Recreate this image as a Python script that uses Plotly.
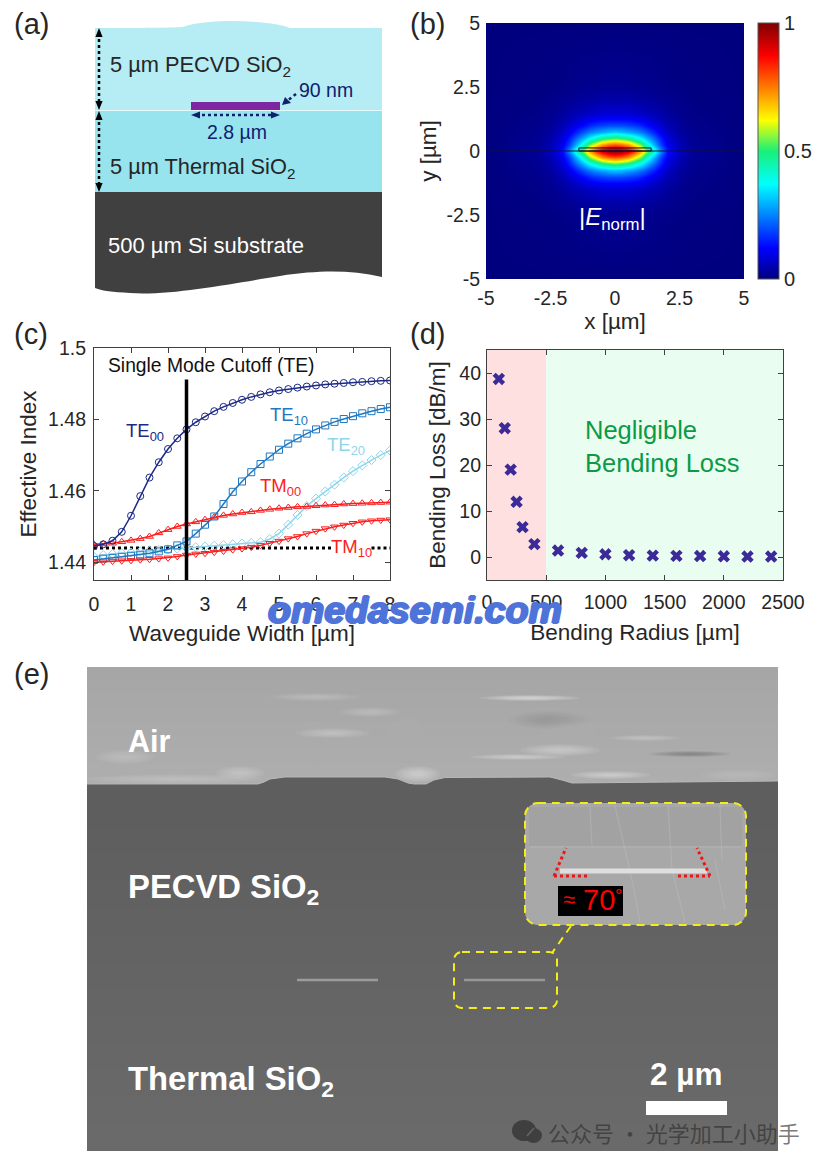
import plotly.graph_objects as go

W, H = 825, 1165

# ---------- panel (b) field (quarter, mirrored on plot)
field_x = [0, .25, .5, .75, 1, 1.25, 1.5, 1.75, 2, 2.5, 3, 5]
field_y = [0, .25, .5, .75, 1, 1.25, 1.5, 2, 2.5, 5]
field_z = [
    [1.0, .98, .92, .83, .70, .55, .42, .27, .14, .06, .025, 0],
    [.80, .78, .73, .65, .55, .42, .30, .20, .11, .05, .02, 0],
    [.52, .50, .47, .42, .36, .29, .22, .15, .09, .04, .018, 0],
    [.32, .31, .29, .27, .24, .20, .15, .11, .07, .03, .015, 0],
    [.19, .19, .18, .17, .15, .12, .10, .08, .05, .025, .012, 0],
    [.12, .12, .12, .11, .10, .085, .07, .05, .04, .02, .01, 0],
    [.08, .08, .08, .07, .065, .055, .05, .04, .03, .015, .008, 0],
    [.04, .04, .04, .035, .03, .03, .025, .02, .015, .01, .005, 0],
    [.018, .018, .018, .015, .015, .015, .012, .01, .008, .005, .003, 0],
    [0, 0, 0, 0, 0, 0, 0, 0, 0, 0, 0, 0],
]
field_ticks = [-5, -2.5, 0, 2.5, 5]
field_ticktext = ["-5", "-2.5", "0", "2.5", "5"]
cbar_ticks = [0, 0.5, 1]
jet = [[0, "#00007f"], [.12, "#0000ff"], [.37, "#00ffff"], [.5, "#19f078"], [.62, "#ffff00"],
       [.87, "#ff0000"], [1, "#7f0000"]]

# ---------- panel (c)
width_um = [i * 0.25 for i in range(33)]
te00 = [1.4445, 1.445, 1.446, 1.4485, 1.453, 1.4585, 1.4637, 1.468, 1.4717, 1.4747, 1.4772, 1.4792, 1.4808,
        1.4823, 1.4835, 1.4846, 1.4855, 1.4863, 1.487, 1.4876, 1.4881, 1.4885, 1.4889, 1.4892, 1.4895,
        1.4898, 1.49, 1.4902, 1.4904, 1.4905, 1.4907, 1.4908, 1.4909]
te10 = [1.4406, 1.441, 1.4412, 1.4415, 1.4418, 1.4421, 1.4425, 1.443, 1.4436, 1.4447, 1.4458, 1.448, 1.4505,
        1.4528, 1.4563, 1.4597, 1.4626, 1.4652, 1.4675, 1.4696, 1.4715, 1.4732, 1.4747, 1.476, 1.4772,
        1.4783, 1.4793, 1.4801, 1.4809, 1.4817, 1.4823, 1.4829, 1.4834]
te20 = [1.4415, 1.442, 1.4423, 1.4425, 1.4427, 1.443, 1.4432, 1.4434, 1.4436, 1.4438, 1.444, 1.4442, 1.4444,
        1.4446, 1.4448, 1.445, 1.4452, 1.4454, 1.4456, 1.4465, 1.448, 1.4505, 1.4532, 1.4557, 1.4578,
        1.4598, 1.4617, 1.4637, 1.4655, 1.4671, 1.4686, 1.47, 1.4713]
tm00 = [1.445, 1.4451, 1.4453, 1.4457, 1.4461, 1.4466, 1.4472, 1.4482, 1.4491, 1.45, 1.4507, 1.4513, 1.4519,
        1.4526, 1.4531, 1.4535, 1.4539, 1.4541, 1.4545, 1.4548, 1.4551, 1.4553, 1.4555, 1.4556, 1.4558,
        1.456, 1.4561, 1.4563, 1.4564, 1.4565, 1.4566, 1.4567, 1.4568]
tm10 = [1.44, 1.4401, 1.4403, 1.4404, 1.4405, 1.4407, 1.4408, 1.441, 1.4412, 1.4416, 1.442, 1.4423, 1.4425,
        1.4428, 1.4431, 1.4435, 1.4438, 1.4442, 1.4447, 1.4453, 1.4459, 1.4466, 1.4472, 1.448, 1.4487,
        1.4494, 1.4499, 1.4504, 1.4509, 1.4513, 1.4516, 1.4518, 1.4519]
cutoff_x = [2.5, 2.5]
cutoff_y = [1.435, 1.4912]
sm_x = [0, 6.45, None, 7.5, 8]
sm_y = [1.444, 1.444, None, 1.444, 1.444]
c_xticks = [0, 1, 2, 3, 4, 5, 6, 7, 8]
c_yticks = [1.44, 1.46, 1.48, 1.5]
c_yticktext = ["1.44", "1.46", "1.48", "1.5"]

# ---------- panel (d)
radius = [100, 150, 200, 250, 300, 400, 600, 800, 1000, 1200, 1400, 1600, 1800, 2000, 2200, 2400]
loss = [38.7, 28, 19, 12, 6.5, 2.8, 1.4, 0.9, 0.6, 0.4, 0.3, 0.25, 0.2, 0.15, 0.1, 0.1]
d_xticks = [0, 500, 1000, 1500, 2000, 2500]
d_yticks = [0, 10, 20, 30, 40]

FONT = "Liberation Sans"
TXT = "#262626"
AX = "#404040"
NAVY = "#10206e"


def X(p):
    return p / W


def Y(p):
    return 1 - p / H


def pp(points, close=True):
    s = "M " + " L ".join(f"{X(a):.5f},{Y(b):.5f}" for a, b in points)
    return s + (" Z" if close else "")


def curve(start, segs):
    s = f"M {X(start[0]):.5f},{Y(start[1]):.5f}"
    for c1, c2, e in segs:
        s += f" C {X(c1[0]):.5f},{Y(c1[1]):.5f} {X(c2[0]):.5f},{Y(c2[1]):.5f} {X(e[0]):.5f},{Y(e[1]):.5f}"
    return s


shapes = []
annots = []


def rect(x0, y0, x1, y1, fill, line=None, lw=0, opacity=1, layer="below"):
    shapes.append(dict(type="rect", xref="paper", yref="paper", x0=X(x0), x1=X(x1), y0=Y(y0), y1=Y(y1),
                       fillcolor=fill, opacity=opacity, layer=layer,
                       line=dict(color=line or fill, width=lw)))


def path(d, fill=None, line=None, lw=0, opacity=1, dash=None, layer="below"):
    ln = dict(color=line or "rgba(0,0,0,0)", width=lw)
    if dash:
        ln["dash"] = dash
    sh = dict(type="path", xref="paper", yref="paper", path=d, opacity=opacity, layer=layer, line=ln)
    if fill:
        sh["fillcolor"] = fill
    shapes.append(sh)


def seg(x0, y0, x1, y1, color, lw, dash=None, opacity=1, layer="above"):
    ln = dict(color=color, width=lw)
    if dash:
        ln["dash"] = dash
    shapes.append(dict(type="line", xref="paper", yref="paper", x0=X(x0), x1=X(x1), y0=Y(y0), y1=Y(y1),
                       line=ln, opacity=opacity, layer=layer))


def ell(x0, y0, x1, y1, fill, opacity=1, layer="below"):
    shapes.append(dict(type="circle", xref="paper", yref="paper", x0=X(x0), x1=X(x1), y0=Y(y0), y1=Y(y1),
                       fillcolor=fill, opacity=opacity, layer=layer, line=dict(width=0)))


def soft(x0, x1, y, h, color, o=.1):
    cx, hw = (x0 + x1) / 2, (x1 - x0) / 2
    for k in (1, .85, .7, .55, .4, .25):
        ell(cx - hw * k, y - h * k, cx + hw * k, y + h * k, color, o)


def vgrad(x0, x1, y0, y1, g0, g1, n):
    # each band runs to the bottom, so later bands paint over earlier ones without seams
    for i in range(n):
        g = round(g0 + (g1 - g0) * i / max(n - 1, 1))
        rect(x0, y0 + (y1 - y0) * i / n, x1, y1, f"rgb({g},{g},{g})")


def text(x, y, s, size=19, color=TXT, anchor="left", valign="middle", bold=False, font=FONT, bg=None):
    a = dict(xref="paper", yref="paper", x=X(x), y=Y(y), text=(f"<b>{s}</b>" if bold else s), showarrow=False,
             xanchor=anchor, yanchor=valign, align="left", font=dict(family=font, size=size, color=color),
             borderpad=0)
    if bg:
        a["bgcolor"] = bg
    annots.append(a)


# panel letters
for lx, ly, s in [(13, 24, "(a)"), (409, 24, "(b)"), (13, 334, "(c)"), (409, 334, "(d)"), (13, 674, "(e)")]:
    text(lx, ly, s, size=29)

# ---------- (a) stack
path(curve((95, 28), [((130, 28), (170, 28), (183, 27)), ((205, 19), (265, 19), (290, 28)), ((320, 28), (350, 28), (382, 28))])
     + f" L {X(382):.5f},{Y(110):.5f} L {X(95):.5f},{Y(110):.5f} Z", fill="#b6ecf4")
rect(95, 110, 382, 192, "#97e4ef")
path(f"M {X(95):.5f},{Y(192):.5f} L {X(382):.5f},{Y(192):.5f} L {X(382):.5f},{Y(277):.5f} "
     + curve((382, 277), [((350, 270), (320, 270), (280, 276)), ((235, 283), (170, 296), (130, 293)), ((112, 292), (103, 291), (95, 288))]).split(" ", 2)[2]
     + " Z", fill="#404040")
seg(95, 110.5, 382, 110.5, "#e6fafd", 1, layer="below")
rect(191, 102, 280, 110, "#7f27a0")


def arrow_head(x, y, d, color, s=6, layer="above"):
    if d == "up":
        pts = [(x, y), (x - s * .6, y + s * 1.5), (x + s * .6, y + s * 1.5)]
    elif d == "down":
        pts = [(x, y), (x - s * .6, y - s * 1.5), (x + s * .6, y - s * 1.5)]
    elif d == "left":
        pts = [(x, y), (x + s * 1.5, y - s * .6), (x + s * 1.5, y + s * .6)]
    else:
        pts = [(x, y), (x - s * 1.5, y - s * .6), (x - s * 1.5, y + s * .6)]
    path(pp(pts), fill=color, layer=layer)


seg(99, 33, 99, 105, "#000000", 2.5, "dot")
arrow_head(99, 28, "up", "#000000")
arrow_head(99, 110, "down", "#000000")
seg(99, 116, 99, 187, "#000000", 2.5, "dot")
arrow_head(99, 111, "up", "#000000")
arrow_head(99, 192, "down", "#000000")
seg(196, 115, 275, 115, NAVY, 2.5, "dot")
arrow_head(191, 115, "left", NAVY)
arrow_head(280, 115, "right", NAVY)
seg(296, 94, 287, 101, NAVY, 2.5, "dot")
path(pp([(282, 105), (285, 97), (291, 103)]), fill=NAVY, layer="above")
text(109, 66, "5 µm PECVD SiO<sub>2</sub>", size=21.8)
text(109, 168, "5 µm Thermal SiO<sub>2</sub>", size=21.8)
text(298, 90, "90 nm", size=19.5, color=NAVY)
text(237, 132, "2.8 µm", size=19.5, color=NAVY, anchor="center")
text(107, 245, "500 µm Si substrate", size=22, color="#ffffff")

# ---------- (e) SEM picture
vgrad(87, 778, 667, 790, 166, 174, 9)
for x0, x1, y, h, c, o in [(270, 360, 697, 4, "#d0d0d0", .1), (340, 400, 712, 5, "#d0d0d0", .1), (295, 370, 733, 5, "#dcdcdc", .1),
                           (480, 580, 698, 3, "#ffffff", .1), (520, 600, 750, 6, "#e0e0e0", .1), (470, 565, 757, 3, "#e8e8e8", .1),
                           (650, 730, 754, 3, "#606060", .1), (610, 680, 738, 3, "#d8d8d8", .1), (510, 590, 720, 9, "#7c7c7c", .05),
                           (95, 155, 757, 7, "#d0d0d0", .1), (215, 265, 773, 7, "#d8d8d8", .1), (395, 440, 774, 8, "#ececec", .1),
                           (570, 650, 775, 4, "#e8e8e8", .1), (385, 425, 745, 30, "#c4c4c4", .035), (540, 595, 735, 24, "#c8c8c8", .035),
                           (295, 335, 750, 30, "#c0c0c0", .035), (700, 778, 775, 6, "#c8c8c8", .1), (87, 260, 779, 5, "#d0d0d0", .1)]:
    soft(x0, x1, y, h, c, o)
# lower oxide with its two ridges
edge = [(87, 784), (258, 784), (264, 782), (270, 779), (285, 777), (385, 777), (398, 779), (408, 783), (414, 784), (426, 784),
        (434, 780), (445, 777.5), (550, 777), (562, 780), (572, 783), (778, 781)]
vgrad(87, 778, 800, 1151, 94, 106, 13)
path(pp(edge + [(778, 801), (87, 801)]), fill="#5e5e5e")
path(pp(edge, close=False), line="#b8b8b8", lw=1)
# waveguides
seg(297, 980, 378, 980, "#9c9c9c", 2.5, layer="below")
seg(464, 980, 545, 980, "#989898", 2.5, layer="below")
# scale bar
rect(646, 1101, 727, 1115, "#ffffff")
text(686, 1074, "2 µm", size=31.5, color="#ffffff", anchor="center", bold=True)
text(127, 741, "Air", size=30.5, color="#ffffff", bold=True)
text(127, 889, "PECVD SiO<sub>2</sub>", size=32.8, color="#ffffff", bold=True)
text(127, 1081, "Thermal SiO<sub>2</sub>", size=32.8, color="#ffffff", bold=True)


def rrect(x0, y0, x1, y1, r):
    k = r * .45
    return curve((x0 + r, y0), [((x0 + r, y0), (x1 - r, y0), (x1 - r, y0)), ((x1 - k, y0), (x1, y0 + k), (x1, y0 + r)),
                                ((x1, y0 + r), (x1, y1 - r), (x1, y1 - r)), ((x1, y1 - k), (x1 - k, y1), (x1 - r, y1)),
                                ((x1 - r, y1), (x0 + r, y1), (x0 + r, y1)), ((x0 + k, y1), (x0, y1 - k), (x0, y1 - r)),
                                ((x0, y1 - r), (x0, y0 + r), (x0, y0 + r)), ((x0, y0 + k), (x0 + k, y0), (x0 + r, y0))]) + " Z"


YEL = "#f4ee14"
path(rrect(525, 803, 746, 925, 13), fill="#a8a8a8")
rect(529, 807, 742, 846, "#a2a2a2")
seg(530, 847, 741, 847, "#b4b4b4", 1.2, layer="below")
for x0, y0, x1, y1 in [(615, 806, 632, 880), (632, 880, 640, 922), (668, 806, 672, 870), (672, 870, 685, 922), (720, 806, 722, 860), (715, 860, 725, 910), (590, 806, 592, 846)]:
    seg(x0, y0, x1, y1, "#c4c4c4", 1.2, opacity=.35, layer="below")
seg(560, 871, 707, 871, "#dedede", 5, layer="below")
path(rrect(525, 803, 746, 925, 13), line=YEL, lw=2, dash="8px,6px", layer="below")
path(rrect(454, 952, 557, 1008, 8), line=YEL, lw=2, dash="8px,6px", layer="below")
seg(571, 926, 552, 953, YEL, 2, dash="8px,6px", layer="below")
rect(558, 886, 623, 916, "#000000", layer="below")
text(562, 899, "≈", size=22, color="#ff0000")
text(582, 900, "70", size=29, color="#ff0000")
text(614, 895, "°", size=19, color="#ff0000")
RED = "#f01414"
for a, b, c, d in [(554, 876, 587, 876), (554, 876, 566, 848), (678, 876, 710, 876), (710, 876, 697, 848)]:
    seg(a, b, c, d, RED, 3, "dot", layer="below")

# ---------- traces
fig = go.Figure()

z_full = []
y_full = [-v for v in reversed(field_y[1:])] + field_y
x_full = [-v for v in reversed(field_x[1:])] + field_x
for row in list(reversed(field_z[1:])) + field_z:
    z_full.append(list(reversed(row[1:])) + row)
fig.add_trace(go.Heatmap(x=x_full, y=y_full, z=z_full, zmin=0, zmax=1, zsmooth="best", colorscale=jet, xaxis="x", yaxis="y",
                         hoverinfo="skip",
                         colorbar=dict(x=X(758), xanchor="left", y=Y(279), yanchor="bottom", lenmode="pixels", len=256,
                                       thicknessmode="pixels", thickness=21, tickvals=cbar_ticks, ticktext=["0", "0.5", "1"],
                                       ticks="", outlinecolor="#555555", outlinewidth=1, xpad=0, ypad=0,
                                       tickfont=dict(family=FONT, size=20, color=TXT))))

series = [("TE20", te20, "#8fd6ec", "diamond-open"), ("TE10", te10, "#1f78c1", "square-open"),
          ("TM00", tm00, "#fb1e1e", "triangle-up-open"), ("TM10", tm10, "#fb1e1e", "triangle-down-open"),
          ("TE00", te00, "#1c2a85", "circle-open")]
fig.add_trace(go.Scatter(x=sm_x, y=sm_y, mode="lines", line=dict(color="#000000", width=3, dash="dot"),
                         xaxis="x2", yaxis="y2", showlegend=False, connectgaps=False))
for name, ys, col, sym in series:
    fig.add_trace(go.Scatter(x=width_um, y=ys, name=name, mode="lines+markers", xaxis="x2", yaxis="y2", showlegend=False,
                             line=dict(color=col, width=1.5),
                             marker=dict(symbol=sym, size=7, color=col, line=dict(color=col, width=1))))
fig.add_trace(go.Scatter(x=cutoff_x, y=cutoff_y, mode="lines", line=dict(color="#000000", width=3.5), xaxis="x2", yaxis="y2",
                         showlegend=False))
fig.add_trace(go.Scatter(x=radius, y=loss, mode="markers", xaxis="x3", yaxis="y3", showlegend=False,
                         marker=dict(symbol="x", size=11, color="#3c2a98", line=dict(width=0))))

# panel (b) guide lines and (d) regions use the chart axes
shapes.append(dict(type="line", xref="x", yref="y", x0=-5, x1=5, y0=0, y1=0, line=dict(color="#101030", width=1)))
shapes.append(dict(type="rect", xref="x", yref="y", x0=-1.4, x1=1.4, y0=0, y1=.12, line=dict(color="#101030", width=1)))
shapes.append(dict(type="rect", xref="x3", yref="y3", x0=0, x1=500, y0=-5, y1=45, fillcolor="#ffe0e0", line=dict(width=0), layer="below"))
shapes.append(dict(type="rect", xref="x3", yref="y3", x0=500, x1=2500, y0=-5, y1=45, fillcolor="#eafdf1", line=dict(width=0), layer="below"))

# chart labels
text(612, 218, "|<i>E</i><sub>norm</sub>|", size=24, color="#ffffff", anchor="center")
text(107, 365, "Single Mode Cutoff (TE)", size=19.3, color="#111111")
text(125, 432, "TE<sub>00</sub>", size=18.5, color="#1c2a85")
text(269, 416, "TE<sub>10</sub>", size=18.5, color="#1f78c1")
text(326, 446, "TE<sub>20</sub>", size=18.5, color="#8fd6ec")
text(259, 487, "TM<sub>00</sub>", size=18.5, color="#fb1e1e")
text(330, 548, "TM<sub>10</sub>", size=18.5, color="#fb1e1e")
text(584, 446, "Negligible<br>Bending Loss", size=25.5, color="#0b9a46")

# overlays
WM = "#4f74d9"
text(267, 610, "omedasemi.com", size=37.5, color=WM, bold=True)
annots[-1]["text"] = "<b><i>omedasemi.com</i></b>"
annots[-1]["font"]["shadow"] = f"1.2px 0 0 {WM},-1.2px 0 0 {WM},0 1px 0 {WM},0 -1px 0 {WM}"
GR = "#3f3f3f"
ell(512, 1120, 536, 1141, GR, layer="above")
ell(525, 1128, 542, 1143, GR, layer="above")
seg(534, 1128, 527, 1136, "#666666", 1.5)
text(547, 1132, "公众号 · 光学加工小助手", size=22, color="rgba(45,45,45,0.65)", font="Noto Sans CJK SC")

base = dict(showgrid=False, zeroline=False, tickfont=dict(family=FONT, size=19.5, color=TXT))
title_font = dict(family=FONT, size=22.5, color=TXT)


def box(ticks="inside"):
    return dict(showline=True, linecolor=AX, linewidth=1.2, mirror="ticks" if ticks else True, ticks=ticks, ticklen=5, tickcolor=AX, tickwidth=1)


fig.update_layout(
    width=W, height=H, margin=dict(l=0, r=0, t=0, b=0, autoexpand=False), paper_bgcolor="#ffffff", plot_bgcolor="#ffffff",
    showlegend=False, shapes=shapes, annotations=annots, font=dict(family=FONT, color=TXT),
    xaxis=dict(base, domain=[X(486), X(744)], range=[-5, 5], tickvals=field_ticks, ticktext=field_ticktext, ticks="",
               ticklabelstandoff=5, title=dict(text="x [µm]", font=title_font, standoff=5), anchor="y"),
    yaxis=dict(base, domain=[Y(279), Y(23)], range=[-5, 5], tickvals=field_ticks, ticktext=field_ticktext, ticks="",
               ticklabelstandoff=5, title=dict(text="y [µm]", font=title_font, standoff=3), anchor="x"),
    xaxis2=dict(base, **box(), domain=[X(94), X(390)], range=[0, 8], tickvals=c_xticks, ticklabelstandoff=6,
                title=dict(text="Waveguide Width [µm]", font=title_font, standoff=11), anchor="y2"),
    yaxis2=dict(base, **box(), domain=[Y(580), Y(348)], range=[1.435, 1.5], tickvals=c_yticks, ticktext=c_yticktext,
                ticklabelstandoff=3, title=dict(text="Effective Index", font=title_font, standoff=5), anchor="x2"),
    xaxis3=dict(base, **box(), domain=[X(487), X(783)], range=[0, 2500], tickvals=d_xticks, ticklabelstandoff=4,
                title=dict(text="Bending Radius [µm]", font=title_font, standoff=12), anchor="y3"),
    yaxis3=dict(base, **box(), domain=[Y(580), Y(350)], range=[-5, 45], tickvals=d_yticks, ticklabelstandoff=1,
                title=dict(text="Bending Loss [dB/m]", font=title_font, standoff=7), anchor="x3"),
)
fig.write_html("out.html", config={"displayModeBar": False}, post_script="document.body.style.margin='0';")
